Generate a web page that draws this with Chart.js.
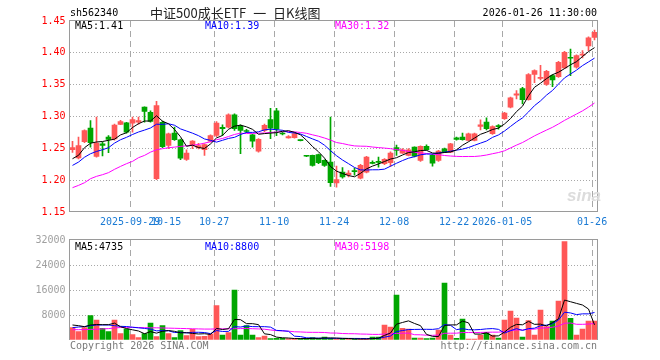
<!DOCTYPE html>
<html><head><meta charset="utf-8">
<script src="https://cdn.jsdelivr.net/npm/chart.js@4.4.1/dist/chart.umd.min.js"></script>
<style>
body{margin:0;background:#fff;width:660px;height:360px;overflow:hidden;position:relative;font-family:"DejaVu Sans Mono",monospace;}
canvas{position:absolute;left:0;}
.t{position:absolute;font-size:10px;line-height:12px;white-space:pre;font-family:"DejaVu Sans Mono",monospace;}
</style></head><body>
<canvas id="kc" width="660" height="230" style="top:0"></canvas>
<canvas id="vc" width="660" height="130" style="top:230px"></canvas>
<div class="t" style="left:70px;top:7px;color:#000">sh562340</div>
<div class="t" style="left:150px;top:4px;font-family:'Noto Sans CJK SC';font-size:13px;line-height:18px;word-spacing:4px;color:#222">中证500成长ETF 一 日K线图</div>
<div class="t" style="right:63px;top:7px;color:#000">2026-01-26 11:30:00</div>
<div class="t" style="left:75px;top:20px;color:#000">MA5:1.41</div>
<div class="t" style="left:205px;top:20px;color:#0000ff">MA10:1.39</div>
<div class="t" style="left:335px;top:20px;color:#ff00ff">MA30:1.32</div>
<div class="t" style="left:75px;top:241px;color:#000">MA5:4735</div>
<div class="t" style="left:205px;top:241px;color:#0000ff">MA10:8800</div>
<div class="t" style="left:335px;top:241px;color:#ff00ff">MA30:5198</div>
<div class="t" style="left:70px;top:340px;color:#7a7a7a">Copyright 2026 SINA.COM</div>
<div class="t" style="right:63px;top:340px;color:#7a7a7a">http://finance.sina.com.cn</div>
<div class="t" style="left:567px;top:186px;font-family:'Liberation Sans';font-size:17px;line-height:20px;font-style:italic;font-weight:bold;color:#dcdcdc">sina</div>
<script>
const dates = [
'2025-09-15','2025-09-16','2025-09-17','2025-09-18','2025-09-19','2025-09-22','2025-09-23','2025-09-24','2025-09-25','2025-09-26','2025-09-29','2025-09-30',
'2025-10-09','2025-10-10','2025-10-13','2025-10-14','2025-10-15','2025-10-16','2025-10-17','2025-10-20','2025-10-21','2025-10-22','2025-10-23','2025-10-24','2025-10-27','2025-10-28','2025-10-29','2025-10-30','2025-10-31',
'2025-11-03','2025-11-04','2025-11-05','2025-11-06','2025-11-07','2025-11-10','2025-11-11','2025-11-12','2025-11-13','2025-11-14','2025-11-17','2025-11-18','2025-11-19','2025-11-20','2025-11-21','2025-11-24','2025-11-25','2025-11-26','2025-11-27','2025-11-28',
'2025-12-01','2025-12-02','2025-12-03','2025-12-04','2025-12-05','2025-12-08','2025-12-09','2025-12-10','2025-12-11','2025-12-12','2025-12-15','2025-12-16','2025-12-17','2025-12-18','2025-12-19','2025-12-22','2025-12-23','2025-12-24','2025-12-25','2025-12-26','2025-12-29','2025-12-30','2025-12-31',
'2026-01-05','2026-01-06','2026-01-07','2026-01-08','2026-01-09','2026-01-12','2026-01-13','2026-01-14','2026-01-15','2026-01-16','2026-01-19','2026-01-20','2026-01-21','2026-01-22','2026-01-23','2026-01-26'];

const opens = [1.248,1.235,1.2605,1.2817,1.2373,1.257,1.2676,1.2646,1.2875,1.290,1.2895,1.291,1.3146,1.3067,1.2025,1.291,1.2545,1.274,1.2635,1.2326,1.2545,1.251,1.248,1.2613,1.2702,1.283,1.2832,1.3027,1.2848,1.278,1.2713,1.2456,1.278,1.2953,1.309,1.2735,1.2665,1.2666,1.263,1.238,1.2389,1.24,1.231,1.2284,1.1955,1.2127,1.2086,1.2145,1.2033,1.2127,1.2275,1.229,1.2259,1.2275,1.251,1.2425,1.2389,1.2519,1.231,1.253,1.2389,1.231,1.2494,1.244,1.2666,1.2676,1.2624,1.2624,1.2845,1.2911,1.2729,1.285,1.2964,1.3146,1.3335,1.3437,1.3266,1.366,1.3598,1.3502,1.3643,1.3627,1.3763,1.3925,1.3773,1.3965,1.4107,1.4243];
const highs = [1.261,1.2675,1.279,1.2937,1.299,1.26,1.2702,1.288,1.294,1.291,1.299,1.299,1.315,1.309,1.324,1.293,1.274,1.2832,1.2645,1.2478,1.262,1.258,1.257,1.2712,1.292,1.287,1.304,1.304,1.287,1.28,1.2725,1.2655,1.288,1.313,1.313,1.275,1.27,1.2745,1.2635,1.2385,1.2395,1.241,1.232,1.299,1.222,1.2196,1.215,1.219,1.225,1.2375,1.2305,1.2362,1.234,1.2445,1.255,1.2495,1.2495,1.2525,1.254,1.2555,1.2405,1.247,1.2505,1.258,1.2675,1.2738,1.274,1.274,1.2948,1.298,1.2855,1.2875,1.3065,1.3305,1.3408,1.346,1.3673,1.3735,1.3804,1.3725,1.366,1.3865,1.4025,1.406,1.397,1.4034,1.425,1.4359];
const lows = [1.2436,1.2335,1.259,1.2519,1.236,1.238,1.2431,1.263,1.287,1.274,1.2754,1.288,1.291,1.291,1.2008,1.251,1.2495,1.2625,1.2322,1.231,1.2494,1.249,1.239,1.26,1.2685,1.2702,1.282,1.278,1.2415,1.2745,1.252,1.244,1.276,1.265,1.27,1.271,1.266,1.266,1.2615,1.237,1.222,1.226,1.2215,1.19,1.189,1.203,1.205,1.208,1.202,1.2115,1.2255,1.2205,1.2245,1.2215,1.2389,1.242,1.238,1.2365,1.2295,1.247,1.222,1.2295,1.243,1.243,1.263,1.263,1.2615,1.2615,1.2791,1.279,1.272,1.28,1.2955,1.3135,1.3277,1.3199,1.3255,1.353,1.3576,1.349,1.347,1.3615,1.375,1.3643,1.376,1.392,1.4033,1.4202];
const closes = [1.251,1.2545,1.2777,1.2588,1.2581,1.2545,1.264,1.2865,1.2922,1.2755,1.2953,1.2937,1.3078,1.2922,1.317,1.2527,1.2729,1.2635,1.2346,1.2425,1.2613,1.2545,1.256,1.2702,1.2895,1.281,1.3027,1.2807,1.278,1.2765,1.2613,1.264,1.286,1.2817,1.28,1.2725,1.2685,1.273,1.262,1.2375,1.2232,1.2274,1.2232,1.196,1.201,1.205,1.211,1.2135,1.2232,1.2362,1.2265,1.228,1.2326,1.2425,1.2467,1.2478,1.2478,1.2378,1.253,1.2478,1.2268,1.2456,1.244,1.2572,1.264,1.2635,1.2729,1.2729,1.287,1.2807,1.2843,1.284,1.3052,1.3293,1.3355,1.3266,1.366,1.3722,1.3615,1.3711,1.3576,1.3851,1.4008,1.3915,1.3956,1.398,1.4237,1.4321];
const volumes = [3947,2667,3947,7787,6400,3733,2667,6400,2027,3520,1707,747,2027,5440,1067,4587,2027,747,2987,1387,3413,1067,1173,1920,10987,1600,2347,16000,1600,4587,1600,800,1280,427,533,500,450,400,420,550,750,550,900,533,320,320,320,320,320,320,960,960,4800,4160,14400,3733,3520,640,640,427,640,3200,18240,1600,533,6720,320,320,1600,2453,1600,640,6400,9280,7040,960,6187,1600,9600,4267,6080,12480,31467,6933,1600,3520,6080,6080];

const ma5Head = [1.2337,1.239,1.251,1.258];
const ma10Head = [1.2232,1.2284,1.236,1.2415,1.2451,1.2478,1.251,1.2582,1.2635];
const ma30Head = [1.1882,1.1918,1.196,1.2023,1.206,1.2086,1.2118,1.217,1.2216,1.2259,1.2295,1.2353,1.2389,1.244,1.2478,1.2494,1.251,1.2519,1.253,1.254,1.255,1.2561,1.2582,1.2603,1.2635,1.2655,1.2686,1.2718,1.2738];
const volMa5Head = [4800,4587,4267,4800];
const volMa10Head = [3947,4160,4267,4587,4800,4800,4800,4587,4373];
const volMa30Head = [3300,3300,3350,3400,3450,3550,3650,3850,4000,4050,4050,4000,3950,3900,3900,3850,3800,3750,3700,3650,3600,3550,3500,3500,3550,3580,3600,3620,3650];

const priceTicks = [1.15,1.20,1.25,1.30,1.35,1.40,1.45];
const volTicks = [0,8000,16000,24000,32000];
const tickDates = ['2025-09-29','2025-10-15','2025-10-27','2025-11-10','2025-11-24','2025-12-08','2025-12-22','2026-01-05','2026-01-26'];
const tickLabels = ['2025-09-29','10-15','10-27','11-10','11-24','12-08','12-22','2026-01-05','01-26'];
const tickGrid = [true,false,true,true,true,true,true,true,true];

const RED = '#ff5757', GREEN = '#00a600';
const N = dates.length;
const tickIdx = tickDates.map(d => dates.indexOf(d));
const colors = closes.map((c, i) => c >= opens[i] ? RED : GREEN);

function movingAvg(arr, n, head) {
  const out = [];
  for (let i = 0; i < arr.length; i++) {
    if (i < n - 1) { out.push(head[i]); continue; }
    let s = 0;
    for (let k = i - n + 1; k <= i; k++) s += arr[k];
    out.push(s / n);
  }
  return out;
}
const pts = arr => arr.map((v, i) => ({x: i, y: v}));
const monoFont = {family: 'DejaVu Sans Mono', size: 10};

function xAxis(showLabels) {
  return {
    type: 'linear', min: -0.5, max: N - 0.5, bounds: 'data', offset: false,
    afterBuildTicks: s => { s.ticks = tickIdx.map(v => ({value: v - 0.4})); },
    ticks: {display: showLabels, autoSkip: false, maxRotation: 0, minRotation: 0, padding: 4,
      color: '#1a7ad4', font: monoFont, callback: (v, i) => tickLabels[i]},
    grid: {offset: false, color: ctx => tickGrid[ctx.index] ? '#a8a8a8' : 'rgba(0,0,0,0)', drawTicks: false, lineWidth: 1},
    border: {display: false, dash: [6, 4]},
    afterFit: s => { s.height = showLabels ? 18 : 0; }
  };
}

const framePlugin = {
  id: 'frame',
  afterDraw(chart, args, opts) {
    const {ctx, chartArea: a} = chart;
    ctx.save();
    ctx.strokeStyle = '#9a9a9a';
    ctx.lineWidth = 1;
    ctx.beginPath();
    if (opts.bottom) { ctx.moveTo(a.left, a.bottom - 0.5); ctx.lineTo(a.right, a.bottom - 0.5); }
    ctx.moveTo(a.left, a.bottom); ctx.lineTo(a.left, a.top - 0.5);
    ctx.moveTo(a.left - 0.5, a.top - 0.5); ctx.lineTo(a.right + 0.5, a.top - 0.5);
    ctx.moveTo(a.right, a.top - 1); ctx.lineTo(a.right, a.bottom);
    ctx.stroke();
    ctx.restore();
  }
};

function lineDs(data, color) {
  return {type: 'line', data: pts(data), borderColor: color, borderWidth: 1, pointRadius: 0,
    tension: 0, fill: false, order: 0};
}

// price chart
new Chart(document.getElementById('kc'), {
  type: 'bar',
  data: {datasets: [
    lineDs(movingAvg(closes, 5, ma5Head), '#000000'),
    lineDs(movingAvg(closes, 10, ma10Head), '#0000ff'),
    lineDs(movingAvg(closes, 30, ma30Head), '#ff00ff'),
    {data: lows.map((l, i) => ({x: i, y: [l, highs[i]]})), backgroundColor: colors, barThickness: 1, grouped: false, order: 2, borderWidth: 0},
    {data: opens.map((o, i) => ({x: i, y: [o, closes[i]]})), backgroundColor: colors, barThickness: 5, minBarLength: 1, grouped: false, order: 1, borderWidth: 0}
  ]},
  options: {
    responsive: false, animation: false, events: [], devicePixelRatio: 1,
    layout: {padding: {left: 0, right: 62.5, top: 21, bottom: 0}},
    plugins: {legend: {display: false}, tooltip: {enabled: false}, frame: {bottom: true}},
    scales: {
      x: xAxis(true),
      y: {min: 1.15, max: 1.45, bounds: 'data',
        afterBuildTicks: s => { s.ticks = priceTicks.map(v => ({value: v})); },
        ticks: {color: '#ff0000', font: monoFont, padding: 4, callback: v => v.toFixed(2)},
        grid: {color: ctx => (ctx.index === 0 || ctx.index === priceTicks.length - 1) ? 'rgba(0,0,0,0)' : '#a8a8a8', drawTicks: false},
        border: {display: false, dash: [1, 2]},
        afterFit: s => { s.width = 69.5; }
      }
    }
  },
  plugins: [framePlugin]
});

// volume chart
new Chart(document.getElementById('vc'), {
  type: 'bar',
  data: {datasets: [
    lineDs(movingAvg(volumes, 5, volMa5Head), '#000000'),
    lineDs(movingAvg(volumes, 10, volMa10Head), '#0000ff'),
    lineDs(movingAvg(volumes, 30, volMa30Head), '#ff00ff'),
    {data: volumes.map((v, i) => ({x: i, y: v})), backgroundColor: colors, barThickness: 5, grouped: false, order: 1, borderWidth: 0}
  ]},
  options: {
    responsive: false, animation: false, events: [], devicePixelRatio: 1,
    layout: {padding: {left: 0, right: 62.5, top: 10, bottom: 20}},
    plugins: {legend: {display: false}, tooltip: {enabled: false}, frame: {bottom: false}},
    scales: {
      x: xAxis(false),
      y: {min: 0, max: 32000, bounds: 'data',
        afterBuildTicks: s => { s.ticks = volTicks.map(v => ({value: v})); },
        ticks: {color: '#a0a0a0', font: monoFont, padding: 4, callback: v => v === 0 ? '' : String(v)},
        grid: {color: ctx => (ctx.index === 0 || ctx.index === volTicks.length - 1) ? 'rgba(0,0,0,0)' : '#a8a8a8', drawTicks: false},
        border: {display: false, dash: [1, 2]},
        afterFit: s => { s.width = 69.5; }
      }
    }
  },
  plugins: [framePlugin]
});
</script>
</body></html>
